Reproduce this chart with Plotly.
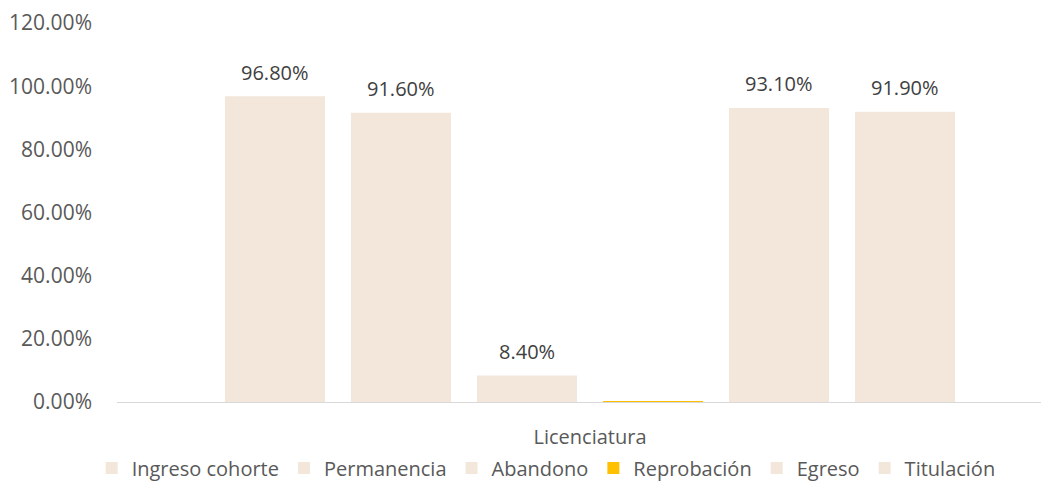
import plotly.graph_objects as go

categories = ["Licenciatura"]
series_names = ["Ingreso cohorte", "Permanencia", "Abandono", "Reprobación", "Egreso", "Titulación"]
series_values = [0.968, 0.916, 0.084, 0.002, 0.931, 0.919]
series_colors = ["#F2E7DA", "#F2E7DA", "#F2E7DA", "#FFC000", "#F2E7DA", "#F2E7DA"]
show_label = [True, True, True, False, True, True]

FONT = "Open Sans"
BARGAP = 0.2008
GROUPGAP = 0.206
ML, MR, MT, MB = 109, 8, 15, 103
PLOT_W = 1049 - ML - MR
CAT_PX = PLOT_W / (0.4852 + 0.5)
SLOT_PX = CAT_PX * (1 - BARGAP) / len(series_names)

fig = go.Figure()
for i, (name, val, col, lab) in enumerate(zip(series_names, series_values, series_colors, show_label)):
    fig.add_trace(go.Bar(
        x=categories, y=[val], name=name,
        marker=dict(color=col, line=dict(width=0)),
        hovertemplate="%{y:.2%}<extra>" + name + "</extra>",
    ))
    if lab:
        fig.add_annotation(
            x=categories[0], y=val, xref="x", yref="y",
            text=f"{val*100:.2f}%", showarrow=False,
            xshift=(i - (len(series_names) - 1) / 2) * SLOT_PX,
            yshift=24, yanchor="middle",
            font=dict(family=FONT, size=20, color="#404040"),
        )

fig.update_layout(
    width=1049, height=497,
    margin=dict(l=ML, r=MR, t=MT, b=MB),
    paper_bgcolor="white", plot_bgcolor="white",
    barmode="group", bargap=BARGAP, bargroupgap=GROUPGAP,
    showlegend=True,
    legend=dict(orientation="h", xref="container", x=0.513, xanchor="center",
                yref="container", y=0.0744, yanchor="middle",
                font=dict(family=FONT, size=20, color="#595959"),
                itemwidth=30, traceorder="normal"),
    font=dict(family=FONT, color="#595959"),
)
fig.update_xaxes(type="category", range=[-0.5, 0.4852], showline=True,
                 linecolor="#D9D9D9", linewidth=1, showgrid=False, ticks="",
                 tickfont=dict(family=FONT, size=20, color="#595959"),
                 ticklabelstandoff=17, automargin=False)
fig.update_yaxes(range=[0, 1.2], dtick=0.2, tickformat=".2%", showgrid=False,
                 zeroline=False, showline=False, ticks="",
                 tickfont=dict(family=FONT, size=21, color="#595959"),
                 ticklabelstandoff=24, automargin=False)

fig.write_html("out.html")
